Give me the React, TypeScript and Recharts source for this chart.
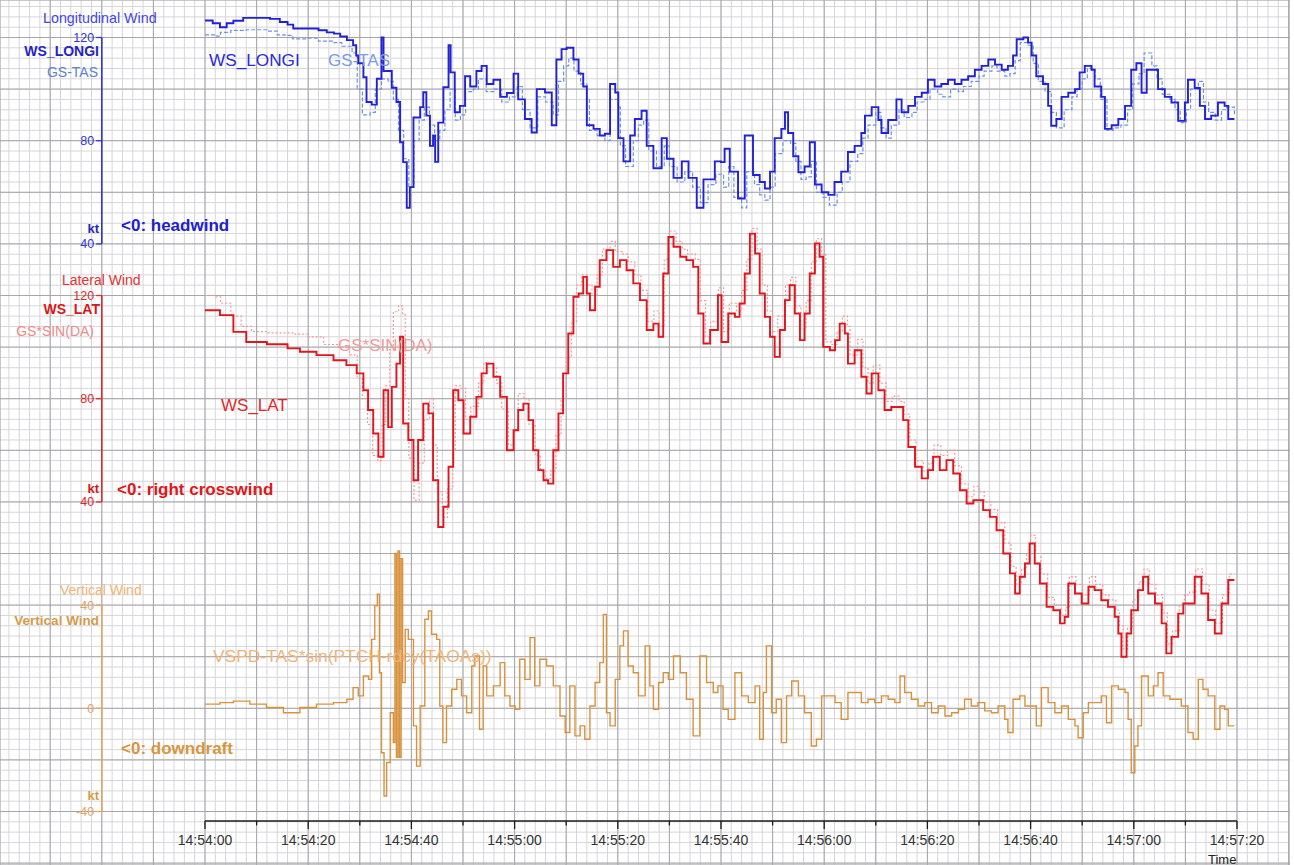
import React from 'react';
import { LineChart, Line, XAxis, YAxis, CartesianGrid, ReferenceLine } from 'recharts';

// time in seconds after 14:54:00
const WS_LONGI: [number, number][] = [
  [0,126.6],[1.5,125.5],[2.9,124],[4.2,125.5],[5.5,126.5],[7.4,127.6],[10,127.6],[12.6,127.2],[14.5,126],[16,125],[17.1,123.5],[20.3,123.5],[22,122.8],[23.6,122],[25,121.5],[26.2,120.4],[27.5,119],[28.7,117],[29.3,113],[29.7,110],[30.7,104.6],[31.3,95],[32.3,94],[33.3,104],[34.2,120],[34.6,107],[35.2,107],[36.2,100.5],[37.1,95],[37.8,79.4],[38.4,71.7],[39.1,54],[39.7,62],[40.4,89],[41.7,93],[42.3,98.8],[42.9,89.7],[43.6,78],[44.2,82],[44.6,71.8],[45.2,87],[46.2,100.7],[47.2,117],[47.6,106.5],[48.4,91],[49.4,93.5],[50.4,105],[51.4,101],[52.6,107],[53.6,109],[54.6,102],[55.9,103.6],[57.2,97],[58.5,98.5],[59.8,106],[60.7,96],[62,88.4],[63.3,83.2],[64.3,100],[65.9,98.7],[67.2,86],[68.1,111.5],[69.1,115.5],[70.1,116],[71.4,111.5],[72.4,106],[73.3,101],[74,86],[75.3,84.6],[76.5,82],[77.5,82.7],[78.5,102],[79.5,98.7],[80.1,81],[81.1,72],[82.4,82],[83.3,88.4],[84.6,91.6],[85.6,78],[86.9,69.3],[88.5,81],[89.5,73],[90.8,65.6],[92.4,72],[93.7,65.6],[95.3,54],[96.6,65],[98.8,72],[100,71.7],[100.7,76.9],[101.7,68],[103.3,57.6],[104.6,82],[106.2,66.7],[107.5,64],[108.5,61.5],[109.5,68],[110.4,81],[111.7,84.6],[112.4,91],[113,83],[114,74],[115,67.8],[116.2,70],[117.2,79.4],[118.2,63],[119.5,60],[120.8,59],[122,64],[123.3,68],[124.6,75.6],[125.9,78],[127.2,83],[127.9,89.7],[129.2,93],[130.5,88],[131.1,83],[132.4,88],[134,96],[135,91],[136.3,93.5],[137.6,97],[138.9,98.6],[140.1,103.6],[141.4,101],[142.7,102],[144,103.6],[145.3,102],[146.6,103.6],[147.9,105],[149.2,107.5],[150.5,109],[151.8,111.5],[153.1,109.5],[154.4,107.5],[155.6,109],[156.6,113],[157.3,119.3],[158.6,120],[159.5,118],[160.2,113],[161.1,105],[162.4,102],[163.4,93.5],[164,85.8],[165,88.4],[166,97],[167.3,98.6],[168.6,100],[169.5,106.5],[170.5,109],[171.8,107.5],[172.4,101],[173.7,97],[174.4,84.6],[175.7,86],[177,88.4],[178.3,93.5],[179.5,107.5],[180.5,110],[181.5,98.6],[182.5,107.5],[183.8,107.5],[184.7,100],[186,97],[187.3,94.8],[188.6,87.7],[189.9,94.8],[190.5,103.6],[191.8,100.4],[192.8,93.5],[193.8,88.4],[195,89.7],[196.3,94.8],[197.6,93.5],[198.3,88.4],[199.5,88.4],
];

const GS_TAS: [number, number][] = [
  [0,121],[2,120.5],[3,122],[5,122.8],[8,123],[12,122.5],[14,121],[15.5,120.8],[17,119.5],[20,119.7],[22,118.6],[25,118],[26.5,116.6],[28.5,114],[29.5,100],[30.5,90],[32,91],[33,100],[34.2,104],[35.5,103],[36.5,96],[37.5,84],[38.5,73],[39.5,62],[40.5,80],[41.5,88],[42.5,93],[43.5,86],[44.5,80],[45.5,84],[46.5,92],[47.5,100],[48.5,88],[49.5,90],[50.5,99],[52,100],[53,104],[54.5,99],[56,100],[57.5,95],[59,97],[60.5,101],[61.5,92],[63,85],[64.5,97],[66,95],[67.5,90],[68.5,103],[69.5,109],[70.5,112],[71.5,107],[72.8,102],[74,96],[74.5,84],[76,82],[77.5,80],[78.5,96],[80,93],[80.5,78],[81.5,70],[83,80],[84,86],[85,88],[86,76],[87.5,70],[89,78],[90,70],[91.5,64],[93,68],[94.5,62],[96,56],[97.5,63],[99,67],[100.5,62],[101.5,70],[102.5,58],[104,54],[105,68],[106.5,63],[107.5,59],[108.5,57],[109.5,62],[110.5,75],[112,80],[113.5,79],[114.5,72],[115.5,65],[116.5,66],[117.5,72],[118.5,60],[119.8,58],[121,55],[122.5,60],[123.5,64],[125,72],[126.5,75],[127.5,81],[128.5,86],[130,91],[131,85],[132,81],[133,86],[134.5,92],[135.5,89],[137,91],[138,95],[139.5,96],[140.5,100],[142,98],[143,97],[144.5,100],[146,99],[147,101],[148.5,103],[150,105],[151,107],[152.5,109],[153.5,107],[155,105],[156,106],[157,111],[158,118],[159.5,117],[160.5,110],[161.5,103],[162.8,99],[164,91],[165,85],[166.5,92],[168,97],[169,100],[170,104],[171,108],[172.5,104],[173.5,96],[174.8,84],[176,85],[177.5,86],[178.8,92],[179.8,102],[181,106],[182,114],[183.5,109],[184.5,104],[185.5,98],[187,96],[188,92],[189,87],[190.2,92],[191,100],[192.5,103],[193.5,95],[194.5,91],[195.8,88],[197,92],[198,93],[199.5,90],
];

const WS_LAT: [number, number][] = [
  [0,114.3],[2.9,112.4],[5.5,105.9],[8,102],[12,101.1],[16,99.5],[18.4,98.2],[21.6,96.9],[24.9,94.9],[27.4,93],[29.4,89.8],[30.7,83.3],[31.6,75.6],[32.6,66.5],[33.6,57.5],[34.6,83.3],[35.5,69],[36.2,84.6],[37.1,93.6],[37.8,104],[38.4,70.4],[39.4,64],[40.4,48.4],[41.3,64],[42.3,78.1],[43.3,74.3],[44.2,48.4],[45.2,30.3],[46.2,38.1],[47.2,53.6],[48.1,83.3],[49.1,79.4],[50.1,66.5],[51.4,73],[52.6,80.7],[53.6,89.8],[54.6,93.6],[55.9,88.5],[57.2,80.7],[58.5,60],[59.8,67.8],[60.7,75.6],[61.7,78.1],[62.7,71.7],[63.6,60],[64.6,52.3],[65.6,48.4],[66.5,47.1],[67.5,60],[68.5,74.3],[69.4,89.8],[70.4,105.3],[71.4,119.5],[72.4,120.8],[73.3,127.2],[74,120.8],[74.6,114.3],[75.6,123.4],[76.5,133.7],[77.8,137.6],[79.1,131.1],[80.4,133.7],[81.7,129.8],[83,124.7],[84.3,118.2],[85.6,106.6],[86.9,109.1],[87.9,104],[88.8,128.5],[89.8,142.7],[90.8,138.9],[92.1,135],[93.3,133.7],[94.6,131.1],[95.6,113],[96.6,101.4],[97.9,106.6],[99.4,120.1],[100.1,102],[101.4,113],[102.7,111.7],[103.6,116.9],[104.6,128.5],[105.6,144],[106.6,136.3],[107.5,120.8],[108.5,111.7],[109.5,104],[110.4,96.2],[111.4,106.6],[112.4,118.2],[113.3,124],[114.3,113],[115.3,102.7],[116.2,113],[117.2,128.5],[118.2,140.2],[119.1,135],[119.8,100.1],[121.1,98.8],[122.1,102.7],[123,109.1],[124,105.3],[124.6,93.6],[125.9,98.8],[127.2,88.5],[128.2,82],[129.2,89.8],[130.5,83.3],[131.7,75.6],[133,76.8],[134.3,76.8],[135.3,71.7],[136.3,61.3],[137.6,53.6],[138.9,49.1],[140.1,52.3],[141.1,57.5],[142.4,52.3],[143.7,56.2],[145,51],[146.3,44.5],[147.6,39.4],[148.9,40.7],[149.8,40.7],[150.8,36.8],[152.1,34.2],[153.4,29],[154.7,20],[156,12.3],[157,4.5],[157.9,11],[158.9,16.1],[159.8,23.9],[160.8,16.1],[161.8,8.4],[163.1,-0.7],[164.4,-2],[165.7,-7.1],[166.6,-4.5],[167.3,8.4],[168.6,4.5],[169.9,0.6],[171.2,7.1],[172.4,5.8],[173.7,1.9],[175,-0.7],[176.3,-4.5],[177,-11],[177.6,-20],[178.6,-11],[179.5,-2],[180.8,5.8],[181.8,11],[182.8,4.5],[184.1,0.6],[185.4,-7.1],[186.3,-18.7],[187.3,-12.3],[188.6,-3.3],[189.6,0.6],[190.5,0.6],[191.8,11],[193.1,4.5],[194.4,-5.8],[195.7,-11],[197,0.6],[198.3,9.7],[199.5,9.7],
];

const GS_SIN_DA: [number, number][] = [
  [0,120],[2,119.5],[3,117],[5,112],[7,108],[9,106],[12,105.5],[17,105],[20,104],[23,101],[26,100],[28,97],[29.5,88],[30.5,80],[31.5,70],[32.5,58],[33.5,56],[34.3,70],[35,85],[35.8,99],[36.5,113.7],[37.5,116],[38.3,113],[38.8,80],[39.5,57],[40.5,40.7],[41.5,55],[42.5,72],[43.5,80],[44.3,62],[45,44],[46,34],[47,45],[48,60],[48.5,85],[49.5,84],[50.5,72],[51.5,77],[53,86],[54,94],[55,92],[56.5,86],[57.5,76],[58.8,62],[60,68],[60.7,82],[61.8,80],[62.8,70],[64,58],[65,52],[66,49],[67,52],[68,66],[69,80],[70,96],[71,110],[72,124],[73,128],[74,124],[75,120],[76,128],[77,138],[78.5,141],[79.5,137],[81,136],[82,133],[83.3,128],[84.5,122],[85.8,110],[87,114],[88,108],[89,134],[90,145],[91.3,141],[92.5,138],[93.5,136],[95,134],[96,118],[97,104],[98,110],[99.5,123],[100.5,106],[101.6,117],[103,114],[104,122],[105,134],[106,146],[107,138],[108,124],[109,114],[110,106],[111,112],[112.5,124],[113.5,127],[114.5,116],[115.5,107],[116.5,118],[117.5,133],[118.5,142],[119.5,136],[120.3,102],[121.5,101],[122.5,106],[123.5,112],[124.5,108],[125,97],[126.5,103],[127.5,92],[128.5,86],[129.5,93],[130.8,86],[132,79],[133.2,81],[134.5,79],[135.5,74],[136.6,64],[137.8,56],[139.2,52],[140.3,55],[141.3,62],[142.6,58],[143.9,60],[145.3,54],[146.6,47],[147.9,42],[149,46],[150,44],[151,40],[152.3,37],[153.6,32],[155,24],[156.2,15],[157.2,8],[158.2,14],[159.2,20],[160,27],[161,20],[162,12],[163.3,3],[164.6,0],[165.9,-4],[166.8,-1],[167.5,11],[168.8,8],[170.1,4],[171.4,11],[172.6,8],[174,4],[175.2,2],[176.5,-2],[177.2,-8],[177.9,-17],[178.8,-9],[179.8,2],[181,9],[182,14],[183,8],[184.3,4],[185.6,-3],[186.5,-15],[187.5,-10],[188.8,0],[189.8,4],[190.8,5],[192,14],[193.3,8],[194.6,-2],[195.9,-7],[197.2,4],[198.5,12],[199.5,12],
];

const VERT_WIND: [number, number][] = [
  [0,1.6],[2.9,2.2],[5.5,2.8],[8.7,1.6],[11.9,0.3],[15.2,-1.7],[18.4,0.3],[21.6,1.6],[24.9,2.2],[27.5,3.5],[28.7,8],[29.7,4.8],[30.7,12.5],[31.7,11.2],[32.3,26.7],[32.9,39.7],[33.4,44.2],[33.8,13.8],[34.2,-17.2],[34.7,-34],[35.2,-21],[35.9,-1.7],[36.5,-13.3],[36.8,60],[37.1,-19],[37.4,61],[37.7,-19],[38.0,58],[38.3,10],[38.8,30.6],[39.4,26.7],[40.4,-6.8],[41,-22.4],[41.7,0.9],[42.6,34.5],[43.3,37.7],[43.9,28.7],[44.9,26.7],[45.5,0.9],[46.1,-13.3],[46.8,0.9],[47.8,7.4],[48.8,11.2],[49.7,4.8],[50.7,-1.7],[51.7,16.4],[52.3,20.3],[53.2,-8.1],[53.9,16.4],[54.6,4.8],[55.9,8.7],[57.2,17.7],[58.1,4.8],[59.1,0.9],[60.1,-0.4],[61,19],[62,11.2],[63,27.4],[63.9,8.7],[64.9,19],[66.2,16.4],[67.5,8.7],[68.8,-3],[69.8,-9.4],[70.7,8.7],[71.7,-10.7],[72.7,-6.8],[73.6,-12],[74.6,0.9],[75.6,10],[76.5,17.7],[77.2,36.4],[77.8,-1.7],[78.5,-6.8],[79.5,11.2],[80.4,24.2],[81.1,30],[82,16.4],[83,13.8],[84,4.8],[85.3,24.2],[86.2,8.7],[86.9,-0.4],[87.9,10],[88.8,13.8],[89.8,11.2],[90.8,20.3],[92.1,13.8],[93.3,3.5],[94.6,-10.7],[95.9,20.3],[97.2,10],[98.5,6.1],[99.4,8.7],[100.4,-0.4],[101.4,-4.3],[102.7,13.8],[104,4.8],[105.3,2.2],[106.6,8.7],[107.5,-12],[108.2,6.1],[108.8,24.2],[109.8,-1.7],[110.7,3.5],[111.7,-13.3],[112.7,4.8],[113.7,10.6],[115,4.8],[116.2,-1.7],[117.5,-14.6],[118.5,-12],[119.5,4.8],[120.8,4.8],[122.1,2.2],[123.3,-4.3],[124.6,6.1],[125.9,6.1],[127.2,2.2],[128.5,3.5],[129.8,2.2],[131.1,4.8],[132.4,3.5],[133.7,2.2],[134.7,12.5],[135.6,6.1],[136.9,3.5],[138.2,0.9],[139.5,2.2],[140.8,-1.7],[142.1,0.9],[143.4,-3],[144.7,-1.7],[146,-0.4],[147.2,3.5],[148.5,0.9],[149.8,2.2],[151.1,-1],[152.4,-1.7],[153.7,0.9],[155,-4.3],[155.6,-9.4],[156.6,3.5],[157.9,4.8],[158.9,0.9],[159.8,0.9],[161.1,-6.8],[162.1,8],[163.4,2.2],[164.7,-1.7],[166,0.9],[167.3,-4.3],[168.6,-6.8],[169.2,-11.4],[170.2,-1.7],[171.2,2.2],[172.4,2.2],[173.7,4.8],[174.7,-5.6],[175.7,8.7],[177,7.4],[178.3,6.1],[178.9,-4.3],[179.5,-25],[180.2,-14.6],[180.8,-6.8],[181.5,12.5],[182.8,4.8],[183.8,8.7],[184.7,13.8],[185.7,4.8],[187,3.5],[188.3,3.5],[189.2,0.9],[190.5,-9.4],[191.5,-12],[192.5,11.2],[193.4,7.4],[194.4,4.8],[195.7,-8.1],[196.7,0.9],[197.6,-0.4],[198.3,-6.8],[199.5,-6.8],
];

const TIME_LABEL_T = [0, 20, 40, 60, 80, 100, 120, 140, 160, 180, 200];
const TIME_LABELS = ['14:54:00','14:54:20','14:54:40','14:55:00','14:55:20','14:55:40','14:56:00','14:56:20','14:56:40','14:57:00','14:57:20'];
const TIME_MINOR_T = [10, 30, 50, 70, 90, 110, 130, 150, 170, 190];

const LONGI_TICKS = [120, 80, 40];
const LAT_TICKS = [120, 80, 40];
const VERT_TICKS = [40, 0, -40];

// ---- layout ----
const W = 1290;
const H = 865;
const PX_PER_S = 5.16;
const X0 = 205;
const X_MIN = -X0 / PX_PER_S;
const X_MAX = (W - X0) / PX_PER_S;
const PX_PER_KT = 2.58;
const Y_BLUE_120 = 37.5;
const BLUE_MAX = 120 + Y_BLUE_120 / PX_PER_KT;
const BLUE_MIN = BLUE_MAX - H / PX_PER_KT;
const RED_MAX = BLUE_MAX + 100;
const RED_MIN = BLUE_MIN + 100;
const VERT_MAX = BLUE_MAX + 140;
const VERT_MIN = BLUE_MIN + 140;
const AXIS_T = -20;
const TICK_LEN = 1.1;

const range = (a: number, b: number, s: number) => {
  const r: number[] = [];
  for (let v = a; v <= b + 1e-9; v += s) r.push(Math.round(v * 1000) / 1000);
  return r;
};
const GRID_X_MINOR = range(-38, 210, 2);
const GRID_X_MAJOR = range(-30, 210, 10);
const GRID_Y_MINOR = range(-200, 132, 4);
const GRID_Y_MAJOR = range(-200, 120, 20);

const toData = (arr: [number, number][]) => arr.map(([t, v]) => ({ t, v }));

const C = {
  blue: '#2222d4',
  blueLight: '#6f92e4',
  blueAxis: '#3434d8',
  red: '#e2141c',
  pink: '#f29a9a',
  redAxis: '#e02a2a',
  orange: '#d8923e',
  orangeAxis: '#e4a564',
};

const font = '"Liberation Sans", Arial, Helvetica, sans-serif';

function PanelAxis({ id, min, max, ticks, color }: { id: string; min: number; max: number; ticks: number[]; color: string }) {
  return (
    <>
      <ReferenceLine xAxisId="t" yAxisId={id} segment={[{ x: AXIS_T, y: min }, { x: AXIS_T, y: max }]} stroke={color} strokeWidth={1.6} />
      {ticks.map((v) => (
        <ReferenceLine
          key={id + v}
          xAxisId="t"
          yAxisId={id}
          segment={[{ x: AXIS_T - TICK_LEN, y: v }, { x: AXIS_T, y: v }]}
          stroke={color}
          strokeWidth={1.3}
          label={{ value: String(v), position: 'left', offset: 2, fill: color, fontSize: 12.5, fontFamily: font }}
        />
      ))}
    </>
  );
}

export default function App() {
  const T = (x: number, y: number, s: string, o: any) => (
    <text x={x} y={y} dominantBaseline="central" fontFamily={font} {...o}>{s}</text>
  );
  return (
    <div style={{ position: 'absolute', left: 0, top: 0, width: 1294, height: 865, background: '#fff', fontFamily: font }}>
      <LineChart width={W} height={H} margin={{ top: 0, right: 0, bottom: 0, left: 0 }}>
        <XAxis xAxisId="t" dataKey="t" type="number" domain={[X_MIN, X_MAX]} allowDataOverflow hide />
        <XAxis xAxisId="gx2" dataKey="t" type="number" domain={[X_MIN, X_MAX]} ticks={GRID_X_MINOR} interval={0} allowDataOverflow hide />
        <XAxis xAxisId="gx10" dataKey="t" type="number" domain={[X_MIN, X_MAX]} ticks={GRID_X_MAJOR} interval={0} allowDataOverflow hide />
        <YAxis yAxisId="blue" type="number" domain={[BLUE_MIN, BLUE_MAX]} allowDataOverflow hide />
        <YAxis yAxisId="red" type="number" domain={[RED_MIN, RED_MAX]} allowDataOverflow hide />
        <YAxis yAxisId="vert" type="number" domain={[VERT_MIN, VERT_MAX]} allowDataOverflow hide />
        <YAxis yAxisId="gy4" type="number" domain={[BLUE_MIN, BLUE_MAX]} ticks={GRID_Y_MINOR} interval={0} allowDataOverflow hide />
        <YAxis yAxisId="gy20" type="number" domain={[BLUE_MIN, BLUE_MAX]} ticks={GRID_Y_MAJOR} interval={0} allowDataOverflow hide />
        <CartesianGrid xAxisId="gx2" yAxisId="gy4" stroke="#d6d6da" strokeWidth={1} />
        <CartesianGrid xAxisId="gx10" yAxisId="gy20" stroke="#a6a6a8" strokeWidth={1} />

        <PanelAxis id="blue" min={40} max={120} ticks={LONGI_TICKS} color={C.blueAxis} />
        <PanelAxis id="red" min={40} max={120} ticks={LAT_TICKS} color={C.redAxis} />
        <PanelAxis id="vert" min={-40} max={40} ticks={VERT_TICKS} color={C.orangeAxis} />

        {/* time axis */}
        <ReferenceLine xAxisId="t" yAxisId="vert" segment={[{ x: 0, y: -43.7 }, { x: 200, y: -43.7 }]} stroke="#1a1a1a" strokeWidth={1.6} />
        {TIME_MINOR_T.map((t) => (
          <ReferenceLine key={'m' + t} xAxisId="t" yAxisId="vert" segment={[{ x: t, y: -43.7 }, { x: t, y: -45.4 }]} stroke="#1a1a1a" strokeWidth={1.3} />
        ))}
        {TIME_LABEL_T.map((t, i) => (
          <ReferenceLine
            key={'l' + t}
            xAxisId="t"
            yAxisId="vert"
            segment={[{ x: t, y: -43.7 }, { x: t, y: -46.8 }]}
            stroke="#1a1a1a"
            strokeWidth={1.3}
            label={{ value: TIME_LABELS[i], position: 'bottom', offset: 6, fill: '#333', fontSize: 14, fontFamily: font }}
          />
        ))}

        <Line xAxisId="t" yAxisId="blue" data={toData(GS_TAS)} dataKey="v" type="stepAfter" stroke={C.blueLight} strokeWidth={1.2} strokeDasharray="4 2" dot={false} isAnimationActive={false} />
        <Line xAxisId="t" yAxisId="blue" data={toData(WS_LONGI)} dataKey="v" type="stepAfter" stroke={C.blue} strokeWidth={1.9} dot={false} isAnimationActive={false} />
        <Line xAxisId="t" yAxisId="red" data={toData(GS_SIN_DA)} dataKey="v" type="stepAfter" stroke={C.pink} strokeWidth={1.2} strokeDasharray="2 2" dot={false} isAnimationActive={false} />
        <Line xAxisId="t" yAxisId="red" data={toData(WS_LAT)} dataKey="v" type="stepAfter" stroke={C.red} strokeWidth={1.9} dot={false} isAnimationActive={false} />
        <Line xAxisId="t" yAxisId="vert" data={toData(VERT_WIND)} dataKey="v" type="stepAfter" stroke={C.orange} strokeWidth={1.4} dot={false} isAnimationActive={false} />
      </LineChart>

      <svg width={1294} height={865} style={{ position: 'absolute', left: 0, top: 0, pointerEvents: 'none' }}>
        {T(43, 18, 'Longitudinal Wind', { fontSize: 14.3, fill: '#4646e2' })}
        {T(99, 51, 'WS_LONGI', { fontSize: 14, fontWeight: 'bold', fill: '#2424c6', textAnchor: 'end' })}
        {T(98, 72, 'GS-TAS', { fontSize: 14, fill: '#5c82d8', textAnchor: 'end' })}
        {T(99, 228, 'kt', { fontSize: 13, fontWeight: 'bold', fill: '#2424c6', textAnchor: 'end' })}
        {T(121, 225, '<0: headwind', { fontSize: 17, fontWeight: 'bold', fill: '#2020d0' })}
        {T(209, 60, 'WS_LONGI', { fontSize: 17.2, fill: '#2a2ad6' })}
        {T(328, 60, 'GS-TAS', { fontSize: 17, fill: '#7a9be2' })}

        {T(62, 280, 'Lateral Wind', { fontSize: 14, fill: '#e8302f' })}
        {T(100, 309, 'WS_LAT', { fontSize: 14, fontWeight: 'bold', fill: '#d81818', textAnchor: 'end' })}
        {T(94, 331, 'GS*SIN(DA)', { fontSize: 14, fill: '#ef8a8a', textAnchor: 'end' })}
        {T(99, 488, 'kt', { fontSize: 13, fontWeight: 'bold', fill: '#d81818', textAnchor: 'end' })}
        {T(117, 489, '<0: right crosswind', { fontSize: 17, fontWeight: 'bold', fill: '#e01818' })}
        {T(221, 405, 'WS_LAT', { fontSize: 17, fill: '#e02828' })}
        {T(338, 345, 'GS*SIN(DA)', { fontSize: 17, fill: '#f09a9a' })}

        {T(60, 590, 'Vertical Wind', { fontSize: 14, fill: '#f0b474' })}
        {T(99, 620, 'Vertical Wind', { fontSize: 13.5, fontWeight: 'bold', fill: '#d89a4a', textAnchor: 'end' })}
        {T(99, 795, 'kt', { fontSize: 13, fontWeight: 'bold', fill: '#d89a4a', textAnchor: 'end' })}
        {T(121, 748, '<0: downdraft', { fontSize: 17, fontWeight: 'bold', fill: '#d9953f' })}
        {T(213, 656, 'VSPD-TAS*sin(PTCH-rdcy(TAOAs))', { fontSize: 17.4, fill: '#efb57a' })}

        {T(1208, 859, 'Time', { fontSize: 13, fill: '#222' })}
      </svg>
    </div>
  );
}
